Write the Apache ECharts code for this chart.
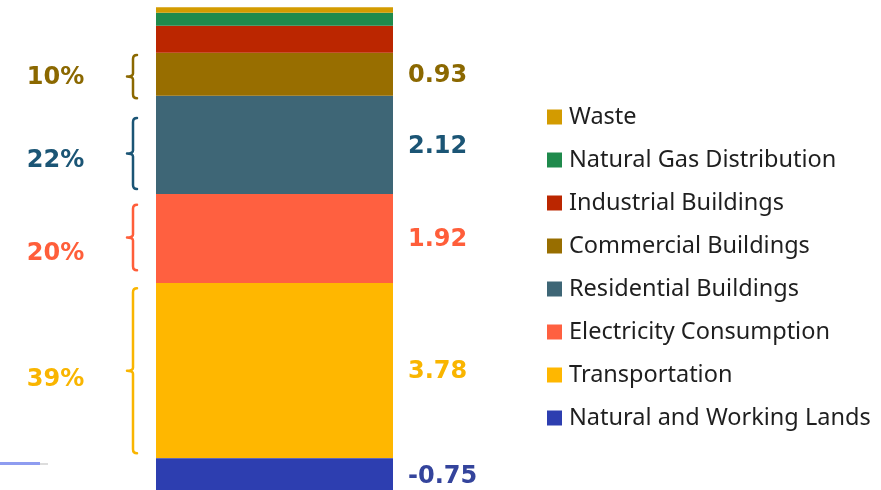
<!DOCTYPE html>
<html>
<head>
<meta charset="utf-8">
<script src="https://cdn.jsdelivr.net/npm/echarts@6/dist/echarts.min.js"></script>
<style>
  html, body { margin: 0; padding: 0; background: #fff; }
  #main { width: 881px; height: 490px; }
</style>
</head>
<body>
<div id="main"></div>
<script>
// stacking order, bottom to top (negative one goes below zero)
const sectors = ['Transportation', 'Electricity Consumption', 'Residential Buildings', 'Commercial Buildings',
  'Industrial Buildings', 'Natural Gas Distribution', 'Waste', 'Natural and Working Lands']
const values = [3.78, 1.92, 2.12, 0.93, 0.58, 0.28, 0.12, -0.75]
const showValue = [true, true, true, true, false, false, false, true]
const legendOrder = ['Waste', 'Natural Gas Distribution', 'Industrial Buildings', 'Commercial Buildings',
  'Residential Buildings', 'Electricity Consumption', 'Transportation', 'Natural and Working Lands']

// brace spans (in value units) and where each share label sits
const braceSector = ['Commercial Buildings', 'Residential Buildings', 'Electricity Consumption', 'Transportation']
const braceFrom = [7.77, 5.81, 4.06, 0.11]
const braceTo = [8.70, 7.34, 5.47, 3.67]
const braceLabelAt = [8.25, 6.47, 4.45, 1.74]

const fillColors = {
  'Transportation': '#ffb700',
  'Electricity Consumption': '#ff6040',
  'Residential Buildings': '#3e6676',
  'Commercial Buildings': '#986e00',
  'Industrial Buildings': '#bb2600',
  'Natural Gas Distribution': '#1f8a4c',
  'Waste': '#d39b00',
  'Natural and Working Lands': '#2d3eb0'
}
const textColors = {
  'Transportation': '#f9b500',
  'Electricity Consumption': '#ff5e3a',
  'Residential Buildings': '#1b5575',
  'Commercial Buildings': '#8b6800',
  'Natural and Working Lands': '#34449c'
}

const positiveTotal = values.filter(v => v > 0).reduce((a, b) => a + b, 0)
const negativeTotal = values.filter(v => v < 0).reduce((a, b) => a + b, 0)

const chart = echarts.init(document.getElementById('main'))

const barSeries = sectors.map((name, i) => ({
  name: name,
  type: 'bar',
  stack: 'total',
  barWidth: '100%',
  data: [values[i]],
  itemStyle: { color: fillColors[name] },
  label: {
    show: showValue[i],
    position: 'right',
    distance: 15,
    offset: [0, 1.5],
    formatter: p => p.value.toFixed(2),
    color: textColors[name],
    fontFamily: 'DejaVu Sans',
    fontWeight: 'bold',
    fontSize: 24
  }
}))

const braceData = braceSector.map((s, i) => ({
  value: [0, braceFrom[i], braceTo[i], braceLabelAt[i]],
  pct: Math.round(values[sectors.indexOf(s)] / positiveTotal * 100) + '%',
  color: textColors[s]
}))

// curly braces + share labels to the left of the bar
const braceSeries = {
  type: 'custom',
  name: 'braces',
  silent: true,
  data: braceData,
  renderItem: (params, api) => {
    const item = braceData[params.dataIndex]
    const lo = api.coord([0, api.value(1)])
    const hi = api.coord([0, api.value(2)])
    const lab = api.coord([0, api.value(3)])
    const barLeft = lo[0] - api.size([1, 0])[0] / 2
    const x = barLeft - 23
    const top = hi[1], bot = lo[1], mid = (top + bot) / 2
    const path = `M${x + 4},${top} Q${x},${top} ${x},${top + 4} L${x},${mid - 3} Q${x},${mid} ${x - 6},${mid} ` +
      `Q${x},${mid} ${x},${mid + 3} L${x},${bot - 4} Q${x},${bot} ${x + 4},${bot}`
    return {
      type: 'group',
      children: [
        {
          type: 'path',
          shape: { pathData: path },
          style: { fill: null, stroke: item.color, lineWidth: 2.5, lineCap: 'round', lineJoin: 'round' }
        },
        {
          type: 'text',
          style: {
            x: barLeft - 100.5, y: lab[1] + 2, text: item.pct,
            align: 'center', verticalAlign: 'middle',
            fill: item.color, font: 'bold 24px "DejaVu Sans"'
          }
        }
      ]
    }
  }
}

chart.setOption({
  animation: false,
  grid: { left: 156, width: 237, top: 7.3, height: 485.8, containLabel: false, outerBoundsMode: 'none' },
  xAxis: { type: 'category', data: ['total'], show: false },
  yAxis: { type: 'value', min: negativeTotal, max: positiveTotal, show: false, splitLine: { show: false } },
  legend: {
    orient: 'vertical',
    left: 547,
    top: 105,
    padding: 0,
    icon: 'rect',
    itemWidth: 15,
    itemHeight: 15,
    itemGap: 19,
    data: legendOrder,
    textStyle: { fontFamily: 'Noto Sans', fontSize: 23.5, lineHeight: 22, color: '#1f1f1f', padding: [0, 0, 0, 2] }
  },
  graphic: [
    { type: 'rect', left: 0, top: 462, shape: { width: 40, height: 3 }, style: { fill: '#8e9cf0' }, silent: true },
    { type: 'rect', left: 40, top: 463, shape: { width: 8, height: 2 }, style: { fill: '#dddddd' }, silent: true }
  ],
  series: [...barSeries, braceSeries]
})
</script>
</body>
</html>
